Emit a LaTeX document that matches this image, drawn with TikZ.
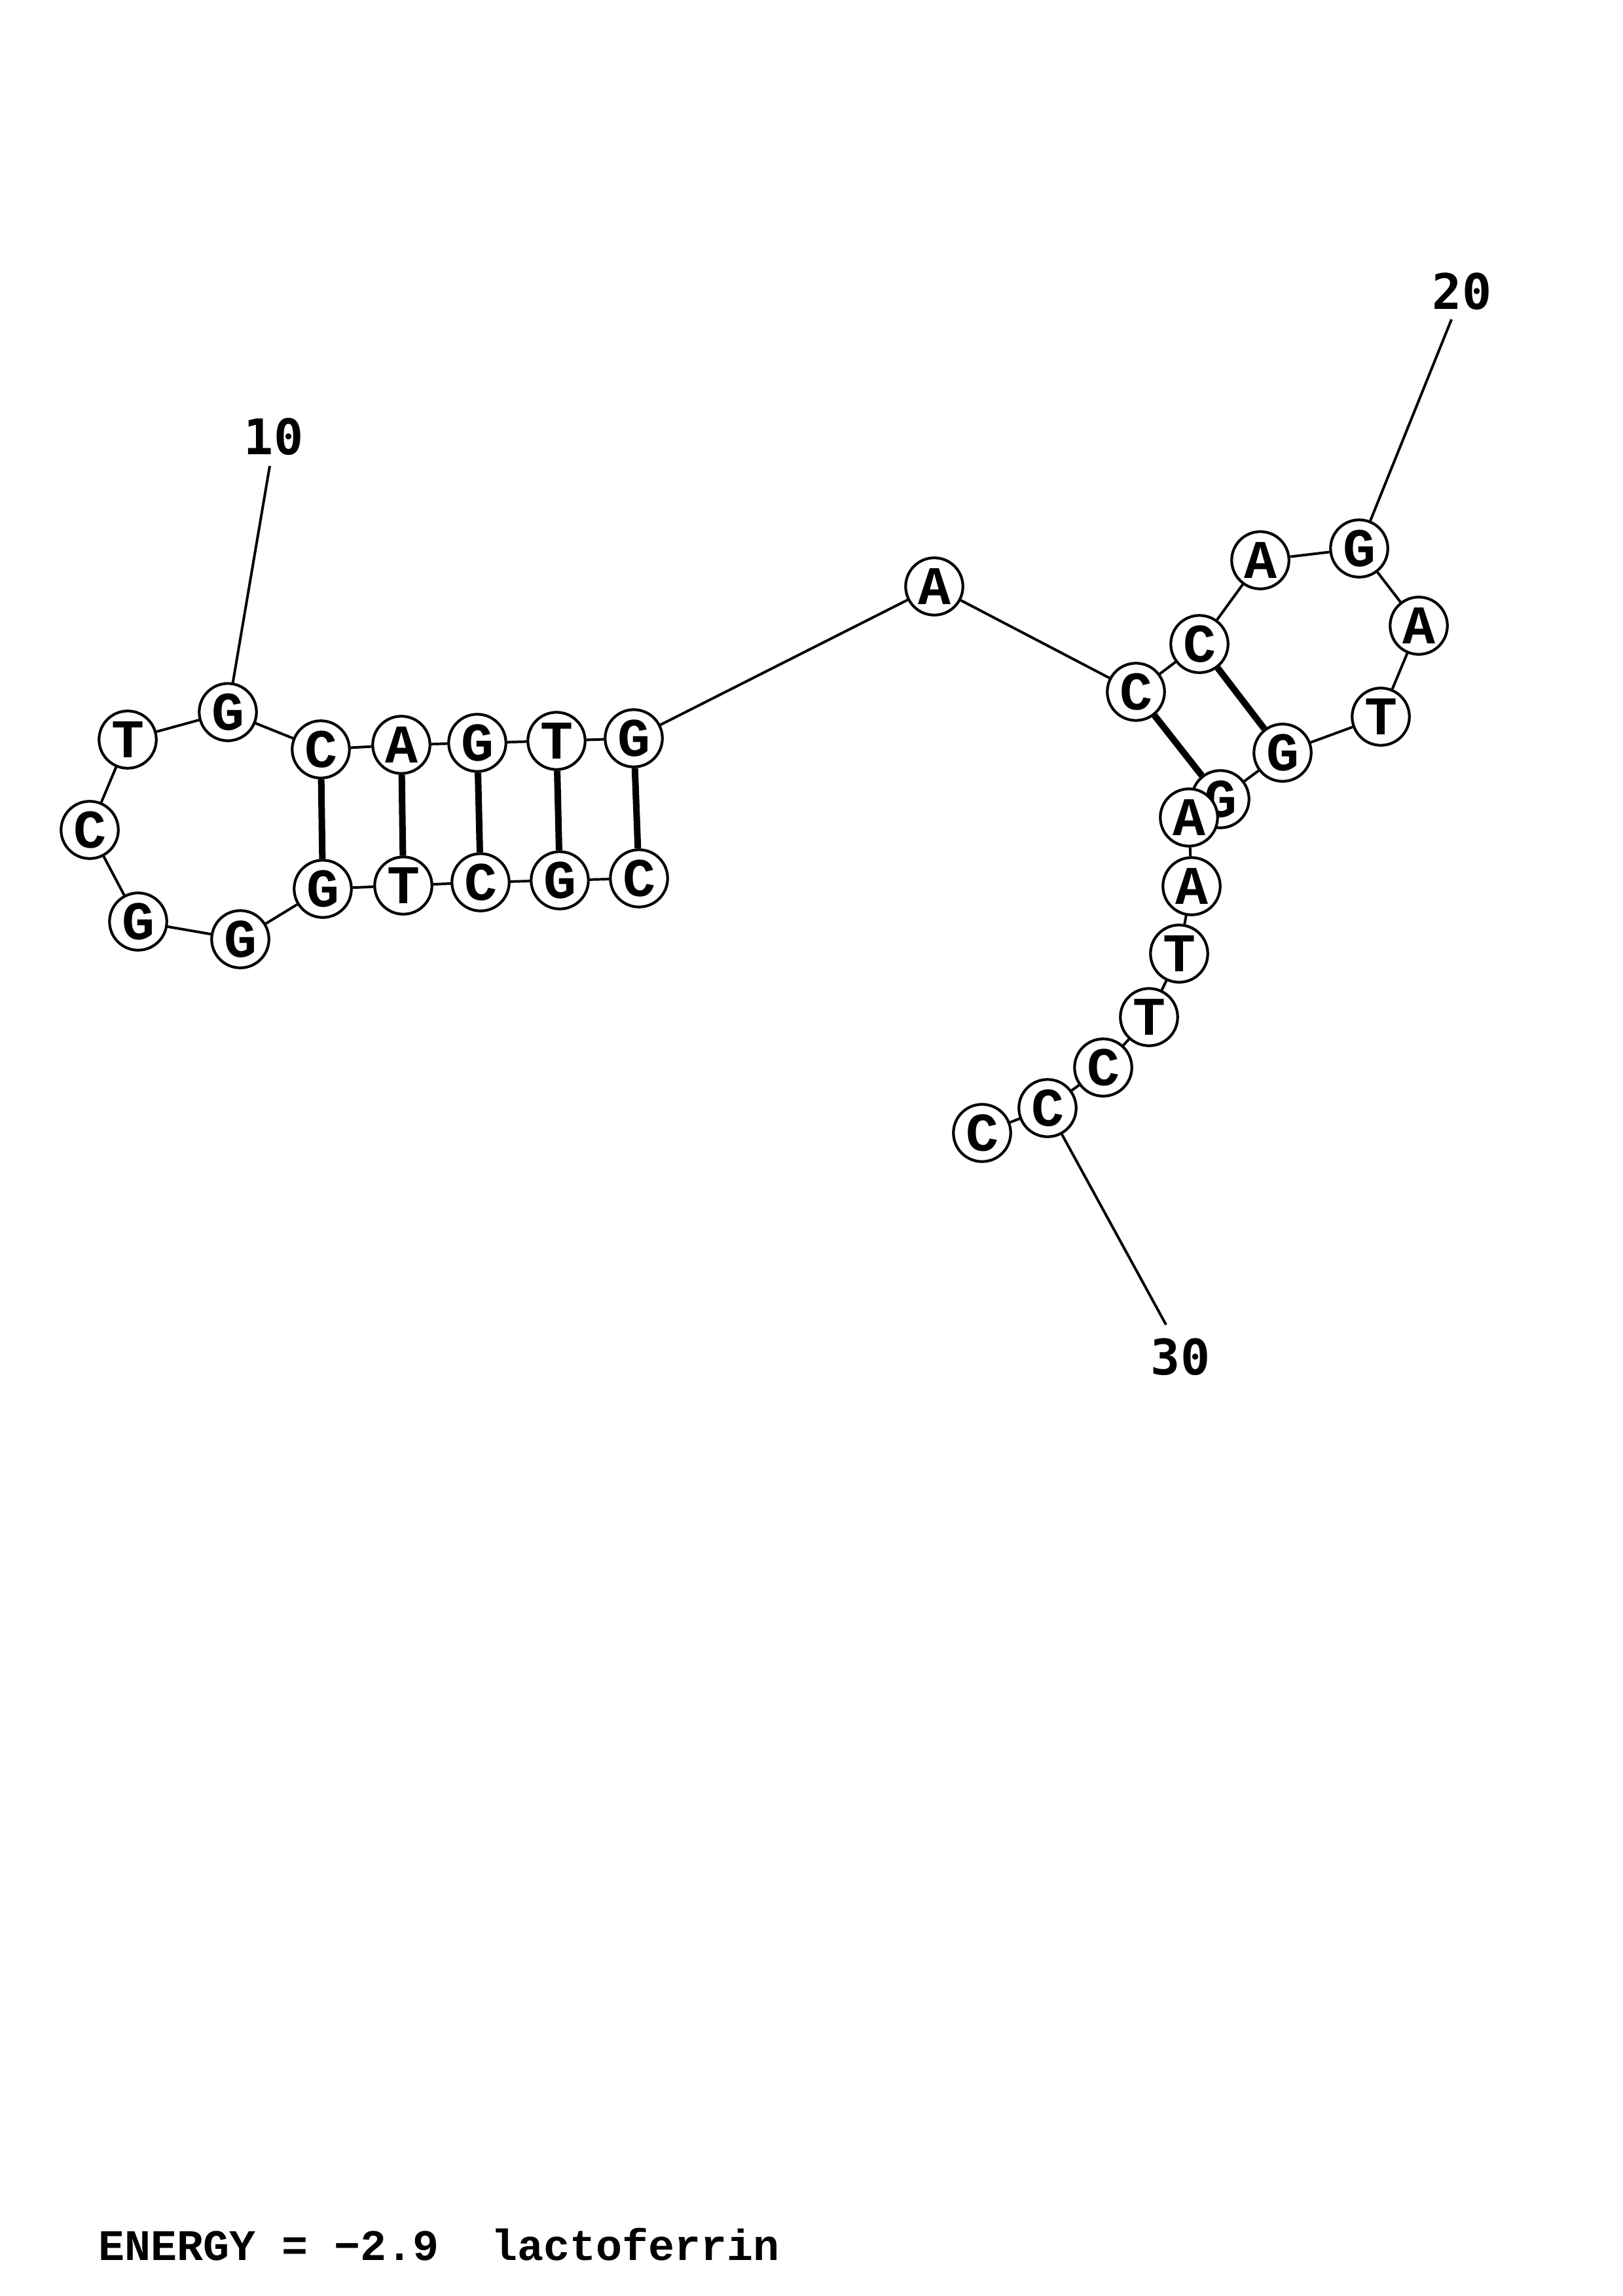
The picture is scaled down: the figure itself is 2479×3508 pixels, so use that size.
\documentclass[tikz,border=0pt]{standalone}
\usepackage{fontspec}
\setmainfont{Liberation Serif}
\newfontfamily\nucfont{Liberation Mono}[BoldFont={Liberation Mono Bold}]
\newfontfamily\numfont{DejaVu Sans Mono}[BoldFont={DejaVu Sans Mono Bold}]
\usetikzlibrary{backgrounds}
\begin{document}
\begin{tikzpicture}[x=0.24012pt,y=-0.24012pt,
  nuc/.style={circle,draw,fill=white,line width=1pt,minimum size=21pt,inner sep=0pt,
     font=\nucfont\bfseries\fontsize{20}{20}\selectfont},
  bb/.style={line width=0.95pt},
  pairline/.style={line width=2.4pt},
  numlab/.style={font=\numfont\bfseries\fontsize{18}{18}\selectfont},
  lab/.style={line width=0.95pt}]
\useasboundingbox (0,0) rectangle (2479,3508);
\node[nuc] (n1) at (976,1342) {C};
\node[nuc] (n2) at (855,1345) {G};
\node[nuc] (n3) at (734,1348) {C};
\node[nuc] (n4) at (616,1353) {T};
\node[nuc] (n5) at (493,1358) {G};
\node[nuc] (n6) at (367,1435) {G};
\node[nuc] (n7) at (211,1408) {G};
\node[nuc] (n8) at (137,1268) {C};
\node[nuc] (n9) at (195,1130) {T};
\node[nuc] (n10) at (348,1088) {G};
\node[nuc] (n11) at (490,1145) {C};
\node[nuc] (n12) at (613,1138) {A};
\node[nuc] (n13) at (729,1135) {G};
\node[nuc] (n14) at (850,1132) {T};
\node[nuc] (n15) at (968,1128) {G};
\node[nuc] (n16) at (1427,896) {A};
\node[nuc] (n17) at (1735,1057) {C};
\node[nuc] (n18) at (1832,984) {C};
\node[nuc] (n19) at (1925,856) {A};
\node[nuc] (n20) at (2076,838) {G};
\node[nuc] (n21) at (2167,956) {A};
\node[nuc] (n22) at (2109,1095) {T};
\node[nuc] (n23) at (1959,1150) {G};
\node[nuc] (n24) at (1864,1221) {G};
\node[nuc] (n25) at (1816,1249) {A};
\node[nuc] (n26) at (1820,1354) {A};
\node[nuc] (n27) at (1801,1457) {T};
\node[nuc] (n28) at (1755,1554) {T};
\node[nuc] (n29) at (1685,1631) {C};
\node[nuc] (n30) at (1600,1693) {C};
\node[nuc] (n31) at (1500,1731) {C};
\node[numlab] (l10) at (418,667) {10};
\node[numlab] (l20) at (2233,445) {20};
\node[numlab] (l30) at (1803,2073) {30};
\coordinate (c10) at (412,712);
\coordinate (c20) at (2217,488);
\coordinate (c30) at (1781,2024);
\node[anchor=base west,font=\nucfont\bfseries\fontsize{16}{16}\selectfont,inner sep=0pt] (energy) at (150,3453) {ENERGY = −2.9\ \ lactoferrin};
\begin{scope}[on background layer]
\foreach \a/\b in {1/2,2/3,3/4,4/5,5/6,6/7,7/8,8/9,9/10,10/11,11/12,12/13,13/14,14/15,15/16,16/17,17/18,18/19,19/20,20/21,21/22,22/23,23/24,24/25,25/26,26/27,27/28,28/29,29/30,30/31}
  \draw[bb] (n\a) -- (n\b);
\foreach \a/\b in {1/15,2/14,3/13,4/12,5/11,17/24,18/23}
  \draw[pairline] (n\a) -- (n\b);
\draw[lab] (n10) -- (c10);
\draw[lab] (n20) -- (c20);
\draw[lab] (n30) -- (c30);
\end{scope}
\end{tikzpicture}
\end{document}
